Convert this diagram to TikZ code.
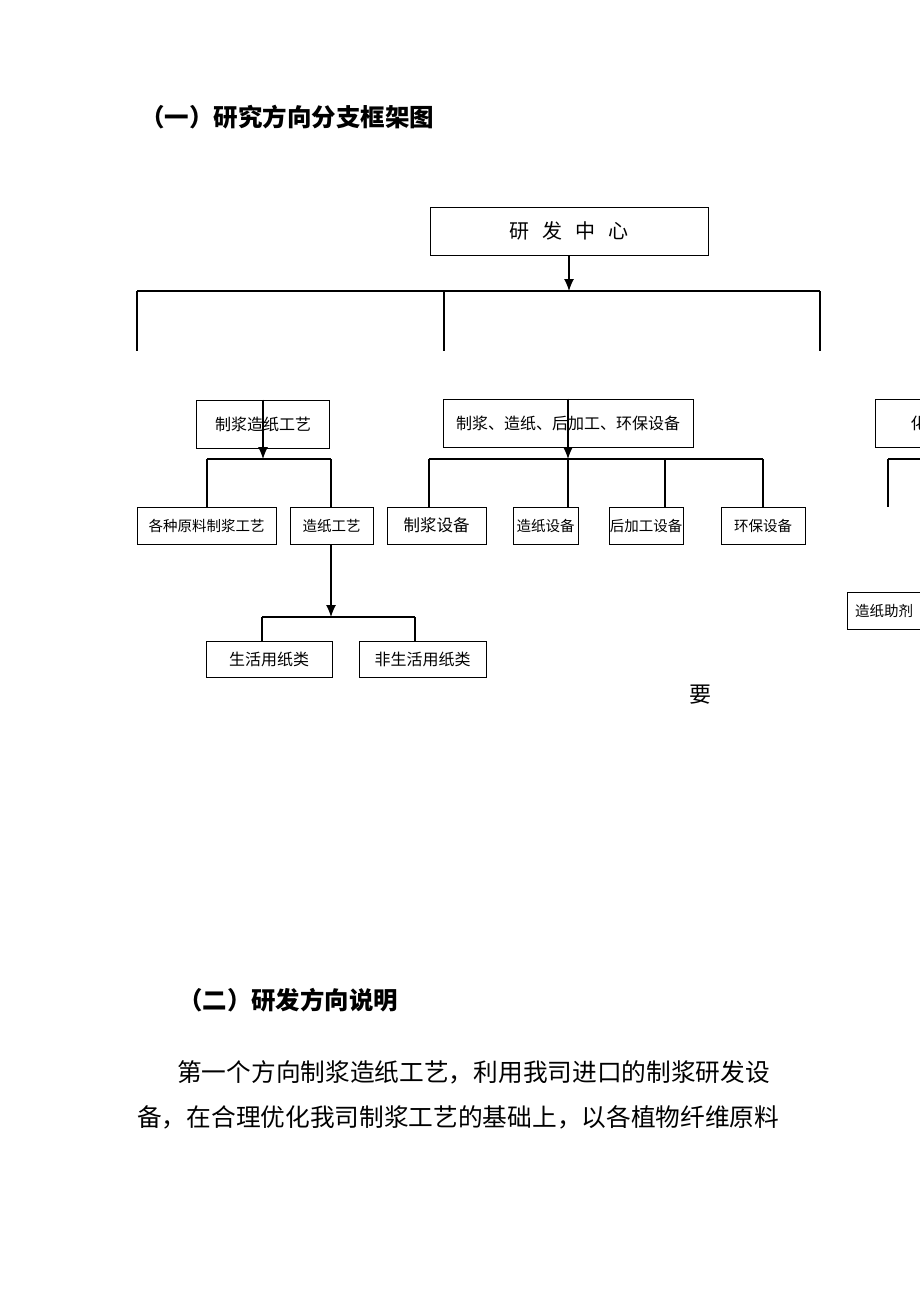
\documentclass[tikz,border=0pt]{standalone}
\usepackage{fontspec}
\newfontfamily\cjk{Noto Sans CJK SC}
\usetikzlibrary{arrows.meta}
\newcommand{\fsz}[1]{\fontsize{#1pt}{#1pt}\selectfont}

\begin{document}
\begin{tikzpicture}[x=1pt,y=-1pt,
  box/.style={draw, line width=1pt, inner sep=0pt, minimum height=37pt, font=\cjk\fsz{14.5}},
  bigbox/.style={box, minimum height=48pt, font=\cjk\fsz{16}},
  bus/.style={line width=1.2pt},
  arr/.style={line width=1.2pt, -{Latex[length=12pt,width=10pt]}},
  txt/.style={inner sep=0pt, anchor=west, font=\cjk\fsz{24.7}}]
\useasboundingbox (0,0) rectangle (920,1302);
\clip (0,0) rectangle (920,1302);

\node[txt, font=\cjk\bfseries\fsz{24.5}] (t1) at (140,117) {（一）研究方向分支框架图};

% top level
\node[box, minimum width=278pt, minimum height=48pt, font=\cjk\fsz{20}] (rd) at (569,231)
  {研\hspace{13pt}发\hspace{13pt}中\hspace{13pt}心};
\coordinate (b0) at (569,291);
\coordinate (b0l) at (137,291);
\coordinate (b0m) at (444,291);
\coordinate (b0r) at (820,291);
\draw[arr] (rd.south) -- (b0);
\draw[bus] (b0l) -- (b0r);
\foreach \c in {b0l,b0m,b0r}
  \draw[bus] (\c) -- ++(0,60);

% second level
\node[bigbox, minimum width=133pt] (pz) at (263,424) {制浆造纸工艺};
\node[bigbox, minimum width=250pt] (sb) at (568,423) {制浆、造纸、后加工、环保设备};
\node[bigbox, minimum width=120pt, anchor=west, text width=120pt, align=left] (hx) at (875,423.5)
  {\hspace*{35pt}化};

% process branch
\coordinate (b1) at (263,459);
\coordinate (b1l) at (207,459);
\coordinate (b1r) at (331,459);
\node[box, minimum width=139pt] (yl) at (206.5,525.5) {各种原料制浆工艺};
\node[box, minimum width=83pt] (zz) at (331.5,525.5) {造纸工艺};
\draw[arr] (pz.north) -- (b1);
\draw[bus] (b1l) -- (b1r);
\draw[bus] (b1l) -- (b1l |- yl.north);
\draw[bus] (b1r) -- (b1r |- zz.north);

\coordinate (b2) at (331,617);
\coordinate (b2l) at (262,617);
\coordinate (b2r) at (415,617);
\node[box, minimum width=126pt, minimum height=36pt, font=\cjk\fsz{16}] (sh) at (269,659) {生活用纸类};
\node[box, minimum width=127pt, minimum height=36pt, font=\cjk\fsz{16}] (fs) at (422.5,659) {非生活用纸类};
\draw[arr] (b2 |- zz.south) -- (b2);
\draw[bus] (b2l) -- (b2r);
\draw[bus] (b2l) -- (b2l |- sh.north);
\draw[bus] (b2r) -- (b2r |- fs.north);

% equipment branch
\coordinate (b3) at (568,459);
\coordinate (b3l) at (429,459);
\coordinate (b3r) at (763,459);
\node[box, minimum width=99pt, font=\cjk\fsz{16.5}] (jb) at (436.5,525.5) {制浆设备\hspace{8pt}};
\node[box, minimum width=65pt] (zb) at (545.5,525.5) {造纸设备};
\node[box, minimum width=74pt] (hb) at (646,525.5) {后加工设备};
\node[box, minimum width=84pt] (eb) at (763,525.5) {环保设备};
\draw[arr] (sb.north) -- (b3);
\draw[bus] (b3l) -- (b3r);
\foreach \x/\n in {429/jb,568/zb,665/hb,763/eb}
  \draw[bus] (\x,459) -- (\x,459 |- \n.north);

% third branch
\coordinate (b4l) at (888,459);
\draw[bus] (b4l) -- (940,459);
\draw[bus] (b4l) -- ++(0,48);
\node[box, minimum width=74pt] (zj) at (884,610.5) {造纸助剂};

\node[font=\cjk\fsz{22}, inner sep=0pt] (yao) at (700,695) {要};

% text below
\node[txt, font=\cjk\bfseries\fsz{24.4}] (t2) at (178,1000) {（二）研发方向说明};
\node[txt] (p1) at (177,1072) {第一个方向制浆造纸工艺，利用我司进口的制浆研发设};
\node[txt] (p2) at (137,1117) {备，在合理优化我司制浆工艺的基础上，以各植物纤维原料};
\end{tikzpicture}
\end{document}
